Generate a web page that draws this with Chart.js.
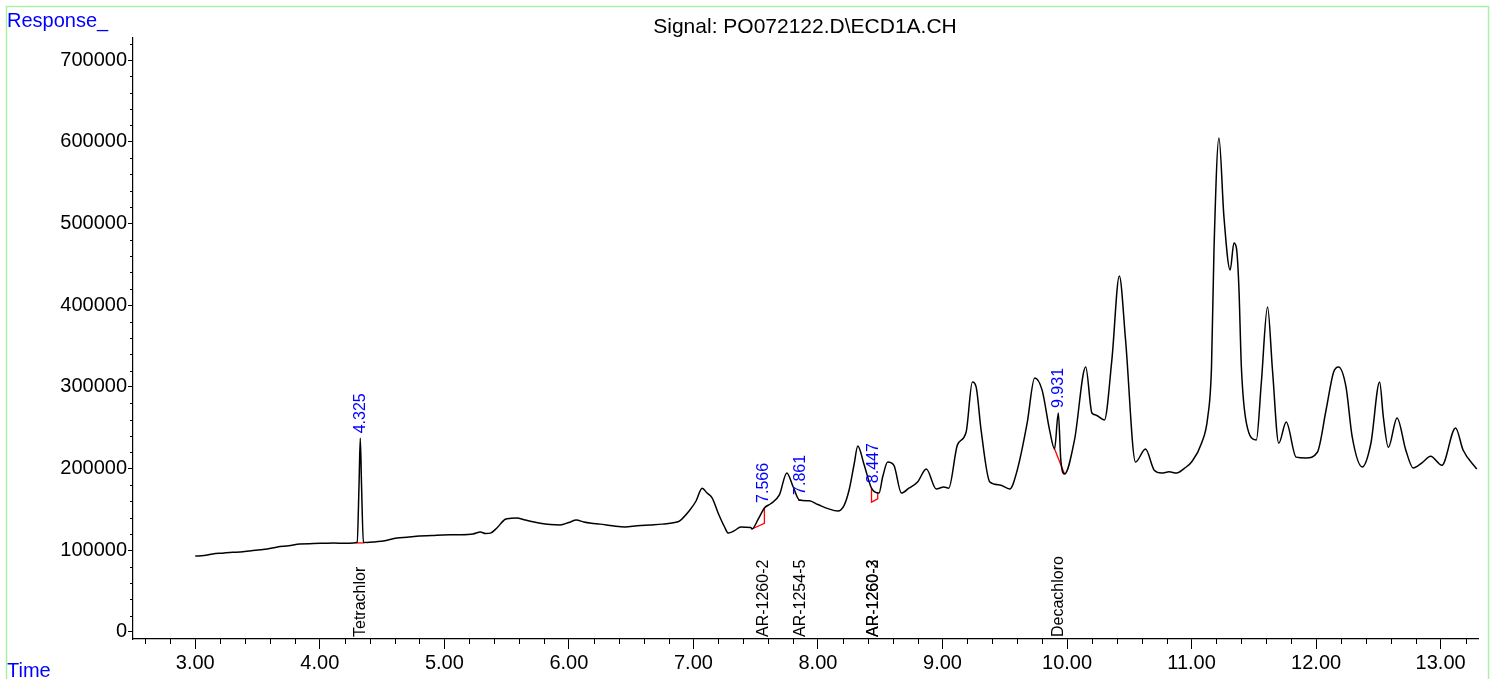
<!DOCTYPE html>
<html>
<head>
<meta charset="utf-8">
<script src="https://cdn.jsdelivr.net/npm/chart.js@4"></script>
<style>
  html, body { margin: 0; padding: 0; background: #fff; }
  canvas { display: block; }
</style>
</head>
<body>
<canvas id="chromatogram" width="1496" height="679"></canvas>
<script>
// signal trace (min, counts)
const retentionTimes = [
  3.00, 3.07, 3.14, 3.22, 3.30, 3.36, 3.45, 3.52, 3.58, 3.66, 3.75, 3.84, 3.95, 4.04, 4.11, 4.20, 4.27,
  4.30, 4.315, 4.325, 4.335, 4.35, 4.38, 4.45, 4.51, 4.62, 4.70, 4.80, 4.90, 4.99, 5.10, 5.23, 5.29, 5.33,
  5.37, 5.42, 5.49, 5.53, 5.58, 5.65, 5.72, 5.77, 5.85, 5.93, 6.00, 6.06, 6.12, 6.18, 6.25, 6.35, 6.45,
  6.55, 6.65, 6.75, 6.85, 6.89, 6.97, 7.02, 7.07, 7.11, 7.15, 7.20, 7.25, 7.28, 7.33, 7.38, 7.46, 7.47,
  7.52, 7.57, 7.62, 7.69, 7.75, 7.80, 7.85, 7.93, 8.00, 8.08, 8.16, 8.21, 8.25, 8.29, 8.32, 8.37, 8.43,
  8.49, 8.52, 8.56, 8.61, 8.67, 8.73, 8.80, 8.87, 8.95, 9.01, 9.05, 9.12, 9.19, 9.24, 9.27, 9.31, 9.38,
  9.46, 9.54, 9.60, 9.68, 9.74, 9.80, 9.86, 9.90, 9.93, 9.95, 9.98, 10.06, 10.15, 10.20, 10.23, 10.30,
  10.36, 10.42, 10.47, 10.55, 10.63, 10.70, 10.76, 10.82, 10.88, 10.94, 11.00, 11.08, 11.13, 11.16,
  11.18, 11.22, 11.26, 11.31, 11.34, 11.36, 11.38, 11.40, 11.44, 11.52, 11.56, 11.61, 11.65, 11.70,
  11.76, 11.84, 11.92, 12.01, 12.08, 12.14, 12.18, 12.24, 12.29, 12.37, 12.44, 12.51, 12.54, 12.58,
  12.65, 12.72, 12.78, 12.85, 12.92, 13.01, 13.12, 13.18, 13.29
];
const responses = [
  93000, 93500, 95500, 96500, 97500, 97900, 99500, 100500, 101600, 104000, 105500, 107700, 108200, 108600, 108900, 108500, 108900,
  110000, 180000, 237000, 180000, 110000, 109500, 110500, 111400, 115000, 116000, 117500, 118000, 118700, 119000, 120000, 122400, 120500,
  121000, 127000, 138000, 139000, 139500, 137000, 134500, 133000, 131500, 131000, 134000, 137000, 134500, 133000, 132000, 130000, 128500,
  130000, 131000, 132000, 134000, 136000, 149000, 160000, 176000, 170000, 164000, 145000, 128500, 121000, 124000, 128500, 128000, 126000,
  138000, 151800, 157000, 167700, 194600, 178000, 161600, 160500, 156000, 151000, 148000, 155000, 173800, 205000, 227600, 205000, 176000,
  170000, 190000, 208000, 204000, 170000, 176000, 183600, 199500, 175000, 177500, 176000, 229000, 244800, 306000, 300000, 247000, 183600,
  180000, 175000, 198000, 255800, 310900, 296000, 247000, 224000, 268000, 210500, 193400, 235000, 324400, 268000, 265600, 259500,
  333000, 435700, 357400, 208000, 224000, 198000, 194600, 196000, 194600, 200000, 208000, 231000, 263000, 324000,
  467500, 604600, 508000, 443000, 476000, 470000, 422000, 324000, 256000, 235000, 304800, 397800, 320000, 231000,
  257000, 214000, 213000, 220000, 271700, 318000, 324400, 300000, 238700, 202000, 231000, 306000, 263000, 226000,
  262000, 222800, 200700, 207000, 215000, 204000, 249700, 222800, 199500
];

// integration baselines (red)
const baselineSegments = [
  [[4.29, 109000], [4.36, 109000]],
  [[7.47, 126000], [7.57, 133000], [7.57, 151800]],
  [[7.84, 161200], [7.87, 161200]],
  [[8.43, 176000], [8.43, 159000], [8.48, 163000], [8.48, 170000]],
  [[9.90, 224000], [9.98, 193400]]
];

// peak annotations
const peakTimes = [4.325, 7.566, 7.861, 8.447, 9.931];
const peakTops = [237000, 151800, 161600, 176000, 268000];
const peakLabels = ['4.325', '7.566', '7.861', '8.447', '9.931'];
const compoundTimes = [4.325, 7.566, 7.861, 8.447, 8.447, 9.931];
const compoundNames = ['Tetrachlor', 'AR-1260-2', 'AR-1254-5', 'AR-1260-2', 'AR-1260-3', 'Decachloro'];

const xMajor = [3, 4, 5, 6, 7, 8, 9, 10, 11, 12, 13];
const yMajor = [0, 100000, 200000, 300000, 400000, 500000, 600000, 700000];

const FONT = "'Liberation Sans', Arial, sans-serif";

const signal = retentionTimes.map((t, i) => ({ x: t, y: responses[i] }));
const redSets = baselineSegments.map(seg => ({
  data: seg.map(p => ({ x: p[0], y: p[1] })),
  borderColor: '#ff0000',
  borderWidth: 1.3,
  pointRadius: 0,
  tension: 0,
  fill: false
}));

const decorations = {
  id: 'decorations',
  afterDraw(chart) {
    const ctx = chart.ctx;
    const xs = chart.scales.x, ys = chart.scales.y;
    const area = chart.chartArea;
    ctx.save();

    // minor ticks
    ctx.strokeStyle = '#000';
    ctx.lineWidth = 1;
    ctx.beginPath();
    for (let v = 2.6; v < 13.3; v += 0.2) {
      if (Math.abs(v - Math.round(v)) < 0.01) continue;
      const px = Math.round(xs.getPixelForValue(v)) + 0.5;
      ctx.moveTo(px, area.bottom);
      ctx.lineTo(px, area.bottom + 5);
    }
    for (let v = 20000; v < 727000; v += 20000) {
      if (v % 100000 === 0) continue;
      const py = Math.round(ys.getPixelForValue(v)) + 0.5;
      ctx.moveTo(area.left, py);
      ctx.lineTo(area.left - 3, py);
    }
    ctx.stroke();

    // peak retention times (blue) and compound names (black)
    ctx.font = '16px ' + FONT;
    ctx.textBaseline = 'middle';
    ctx.textAlign = 'left';
    peakTimes.forEach((t, i) => {
      const px = xs.getPixelForValue(t);
      const py = ys.getPixelForValue(peakTops[i]) - 5;
      ctx.save();
      ctx.translate(px, py);
      ctx.rotate(-Math.PI / 2);
      ctx.fillStyle = '#0000ff';
      ctx.fillText(peakLabels[i], 0, 0);
      ctx.restore();
    });
    compoundTimes.forEach((t, i) => {
      const px = xs.getPixelForValue(t);
      ctx.save();
      ctx.translate(px, area.bottom - 2);
      ctx.rotate(-Math.PI / 2);
      ctx.fillStyle = '#000';
      ctx.fillText(compoundNames[i], 0, 0);
      ctx.restore();
    });

    // title and axis captions
    ctx.textBaseline = 'alphabetic';
    ctx.font = '21px ' + FONT;
    ctx.fillStyle = '#000';
    ctx.textAlign = 'center';
    ctx.fillText('Signal: PO072122.D\\ECD1A.CH', 805, 33);
    ctx.font = '20px ' + FONT;
    ctx.textAlign = 'left';
    ctx.fillStyle = '#0000ff';
    ctx.fillText('Response_', 7, 27);
    ctx.fillText('Time', 7, 677);

    // frame
    ctx.strokeStyle = '#a8f0a8';
    ctx.lineWidth = 1.5;
    ctx.strokeRect(6.5, 6.5, 1482, 700);
    ctx.restore();
  }
};

new Chart(document.getElementById('chromatogram'), {
  type: 'line',
  data: {
    datasets: [{
      data: signal,
      borderColor: '#000',
      borderWidth: 1.5,
      pointRadius: 0,
      cubicInterpolationMode: 'monotone',
      fill: false
    }].concat(redSets)
  },
  options: {
    responsive: false,
    animation: false,
    layout: { padding: { left: 0, right: 18, top: 38, bottom: 0 } },
    plugins: {
      legend: { display: false },
      tooltip: { enabled: false },
      title: { display: false }
    },
    scales: {
      x: {
        type: 'linear',
        min: 2.5,
        max: 13.3,
        afterBuildTicks: s => { s.ticks = xMajor.map(v => ({ value: v })); },
        afterFit: s => { s.height = 40; },
        border: { display: true, color: '#000', width: 1.2 },
        grid: { display: true, drawOnChartArea: false, tickLength: 10, color: '#000', tickColor: '#000' },
        ticks: {
          autoSkip: false,
          maxRotation: 0,
          padding: 2,
          color: '#000',
          font: { family: FONT, size: 20 },
          callback: v => Number(v).toFixed(2)
        }
      },
      y: {
        type: 'linear',
        min: -8600,
        max: 727000,
        afterBuildTicks: s => { s.ticks = yMajor.map(v => ({ value: v })); },
        afterFit: s => { s.width = 133; },
        border: { display: true, color: '#000', width: 1.2 },
        grid: { display: true, drawOnChartArea: false, tickLength: 5, color: '#000', tickColor: '#000' },
        ticks: {
          autoSkip: false,
          padding: 1,
          color: '#000',
          font: { family: FONT, size: 20 },
          callback: v => String(v)
        }
      }
    }
  },
  plugins: [decorations]
});
</script>
</body>
</html>
